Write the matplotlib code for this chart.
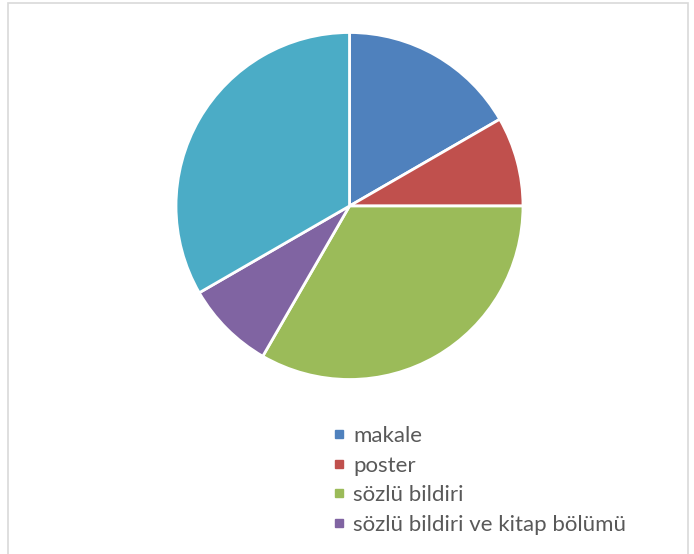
import matplotlib
matplotlib.use("Agg")
import matplotlib.pyplot as plt
from matplotlib.lines import Line2D
from matplotlib.patches import Rectangle

categories = ["makale", "poster", "sözlü bildiri", "sözlü bildiri ve kitap bölümü", ""]
values = [2, 1, 4, 1, 4]
colors = ["#4F81BD", "#C0504D", "#9BBB59", "#8064A2", "#4BACC6"]

W, H = 694, 554
fig = plt.figure(figsize=(W / 100, H / 100), dpi=100)
fig.patch.set_facecolor("white")

# outer chart border (bottom is cut off in the reference)
fig.patches.append(Rectangle((8 / W, -0.05), (688 - 8) / W, (H - 3) / H + 0.05,
                             transform=fig.transFigure, fill=False,
                             edgecolor="#D9D9D9", linewidth=1.2))

cx, cy, r = 349.5, 206, 173.5
ax = fig.add_axes([(cx - r) / W, 1 - (cy + r) / H, 2 * r / W, 2 * r / H])
ax.pie(values, colors=colors, startangle=90, counterclock=False,
       wedgeprops=dict(edgecolor="white", linewidth=2))
ax.set_xlim(-1, 1)
ax.set_ylim(-1, 1)
ax.set_aspect("equal")

handles = [Line2D([], [], marker="s", linestyle="none", markersize=6.2,
                  markerfacecolor=c, markeredgecolor=c)
           for c in colors[:4]]
leg = fig.legend(handles, categories[:4], loc="upper left",
                 bbox_to_anchor=(333 / W, 1 - 426 / H), frameon=False,
                 prop=dict(family="Lato", size=16), labelcolor="#595959",
                 handlelength=0.5, handletextpad=0.42, labelspacing=0.43,
                 borderpad=0, borderaxespad=0)

fig.savefig("out.png", dpi=100, facecolor="white")
